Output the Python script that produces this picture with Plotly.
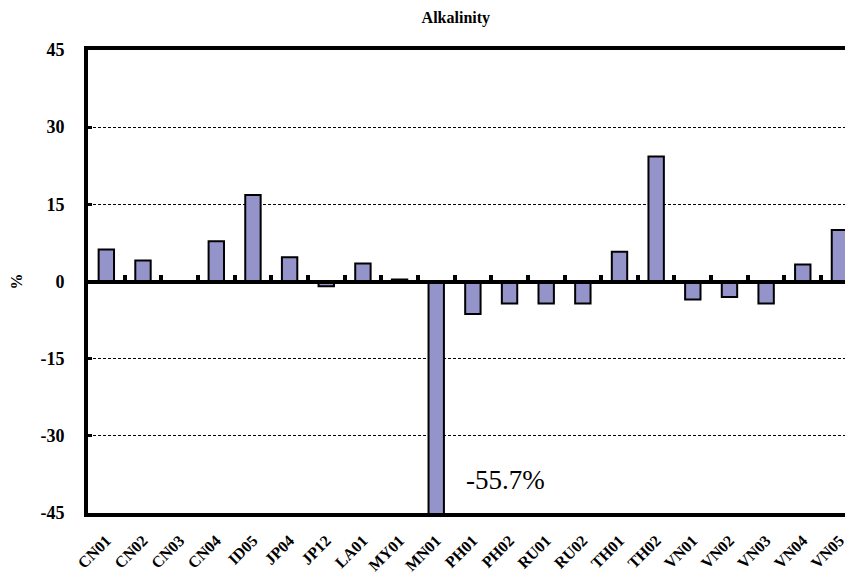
import plotly.graph_objects as go

sites = ["CN01", "CN02", "CN03", "CN04", "ID05", "JP04", "JP12", "LA01", "MY01", "MN01",
         "PH01", "PH02", "RU01", "RU02", "TH01", "TH02", "VN01", "VN02", "VN03", "VN04", "VN05"]
alk = [6.2, 4.1, 0.0, 7.8, 16.8, 4.7, -0.9, 3.5, 0.4, -55.7,
       -6.3, -4.3, -4.3, -4.3, 5.8, 24.3, -3.5, -3.0, -4.3, 3.3, 10.0]
yticks = [-45, -30, -15, 0, 15, 30, 45]
ylabels = [str(v) for v in yticks]

serif = "Liberation Serif"
bar_col = "#9494CA"

fig = go.Figure()
fig.add_trace(go.Bar(x=sites, y=alk, width=0.42, marker=dict(color=bar_col, line=dict(color="black", width=2)),
                     xaxis="x", yaxis="y", showlegend=False))
# invisible copy so the zero axis gets its categories
fig.add_trace(go.Scatter(x=sites, y=[0] * len(sites), mode="markers", marker=dict(opacity=0),
                         xaxis="x2", yaxis="y", showlegend=False, hoverinfo="skip"))

fig.add_annotation(x=9.75, y=-38.5, xref="x", yref="y", text="-55.7%", showarrow=False, xanchor="left",
                   font=dict(family=serif, size=27, color="black"))

# page body has an 8px margin, so the figure is shrunk to fit the window
fig.update_layout(
    width=845, height=571,
    margin=dict(l=80, r=0, t=42, b=66, autoexpand=False),
    paper_bgcolor="white", plot_bgcolor="white",
    title=dict(text="Alkalinity", x=0.53, xanchor="center", y=0.983, yanchor="middle",
               font=dict(family=serif, size=16, color="black", weight="bold")),
    xaxis=dict(type="category", range=[-0.5, 20.37], showline=True, linewidth=4, linecolor="black", mirror=True,
               ticks="", showgrid=False, tickangle=-45, ticklabelstandoff=8,
               tickfont=dict(family=serif, size=16, color="black", weight="bold")),
    xaxis2=dict(type="category", range=[-0.5, 20.37], overlaying="x", anchor="free", position=0.5,
                showline=True, linewidth=4, linecolor="black", ticks="inside", tickson="boundaries",
                ticklen=5, tickwidth=4, tickcolor="black", showticklabels=False, showgrid=False),
    yaxis=dict(range=[-45, 45], tickvals=yticks, ticktext=ylabels, showline=True, linewidth=4, linecolor="black",
               ticks="inside", ticklen=4, tickwidth=3, tickcolor="black", zeroline=False,
               showgrid=True, gridcolor="black", gridwidth=1, griddash="3px,2px", automargin=False,
               ticklabelstandoff=16, tickfont=dict(family=serif, size=18, color="black", weight="bold"),
               title=dict(text="%", standoff=22, font=dict(family=serif, size=16, color="black", weight="bold"))),
)

fig.write_html("out.html")
